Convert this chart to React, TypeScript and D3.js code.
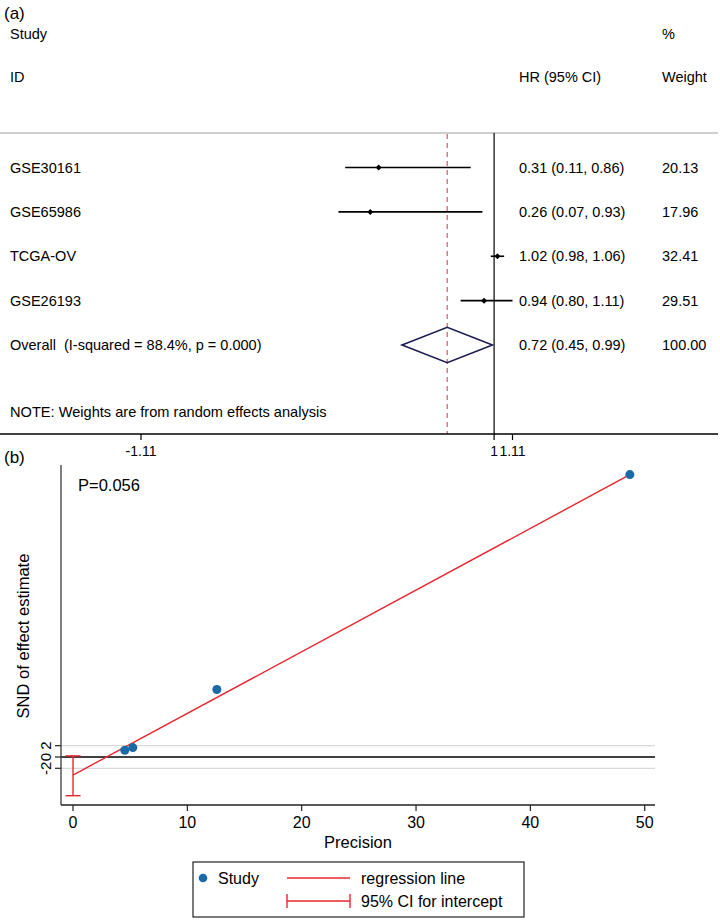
import React from "react";
import * as d3 from "d3";

const studies = ["GSE30161", "GSE65986", "TCGA-OV", "GSE26193"];
const hr = [0.31, 0.26, 1.02, 0.94];
const ciLow = [0.11, 0.07, 0.98, 0.8];
const ciHigh = [0.86, 0.93, 1.06, 1.11];
const hrText = ["0.31 (0.11, 0.86)", "0.26 (0.07, 0.93)", "1.02 (0.98, 1.06)", "0.94 (0.80, 1.11)"];
const weights = ["20.13", "17.96", "32.41", "29.51"];
const overall = { hr: 0.72, lo: 0.45, hi: 0.99, text: "0.72 (0.45, 0.99)", weight: "100.00" };
const forestTicks = [-1.11, 1, 1.11];
const forestTickLabels = ["-1.11", "1", "1.11"];

const precision = [4.53, 5.23, 12.58, 48.7];
const snd = [1.2, 1.66, 11.96, 50.0];
const regIntercept = -3.2;
const regSlope = 1.092;
const interceptCI = [-6.85, 0.2];
const precTicks = [0, 10, 20, 30, 40, 50];
const sndTicks = [-2, 0, 2];

const FONT = "Liberation Sans, Arial, sans-serif";
const RED = "#e8262e";
const BLUE = "#1a6aa8";

export default function App() {
  // forest plot scales
  const fx = d3.scaleLinear().domain([-1.11, 1.11]).range([141, 512.5]);
  const rowY = d3.scalePoint<number>().domain([0, 1, 2, 3, 4]).range([167.5, 345]);

  // egger plot scales
  const ex = d3.scaleLinear().domain([-1.05, 50.9]).range([61, 655]);
  const ey = d3.scaleLinear().domain([-8.5, 51.7]).range([805, 465]);
  const xMaxPrec = d3.max(precision) as number;
  const regLine = d3.line<number>().x((p) => ex(p)).y((p) => ey(regIntercept + regSlope * p));

  const diamond = d3.line<[number, number]>()([
    [fx(overall.lo), rowY(4)!],
    [fx(overall.hr), rowY(4)! - 17.7],
    [fx(overall.hi), rowY(4)!],
    [fx(overall.hr), rowY(4)! + 17.7],
  ]) + "Z";

  return (
    <svg width={720} height={922} style={{ position: "absolute", left: 0, top: 0, background: "#fff" }} fontFamily={FONT}>
      <rect width={720} height={922} fill="#fff" />
      {/* (a) forest plot */}
      <text x={4} y={19} fontSize={17}>(a)</text>
      <text x={10} y={39} fontSize={14.5}>Study</text>
      <text x={10} y={82} fontSize={14.5}>ID</text>
      <text x={519} y={82} fontSize={14.5}>HR (95% CI)</text>
      <text x={662} y={39} fontSize={14.5}>%</text>
      <text x={662} y={82} fontSize={14.5}>Weight</text>
      <line x1={0} x2={718} y1={133} y2={133} stroke="#cfcfcf" strokeWidth={2} />

      <line x1={fx(1)} x2={fx(1)} y1={133} y2={434} stroke="#000" strokeWidth={1.2} />
      <line x1={fx(overall.hr)} x2={fx(overall.hr)} y1={134} y2={434} stroke="#cf6a74" strokeWidth={1.3} strokeDasharray="5,4" />

      {studies.map((s, i) => (
        <g key={s}>
          <text x={10} y={rowY(i)! + 5} fontSize={14.5}>{s}</text>
          <line x1={fx(ciLow[i])} x2={fx(ciHigh[i])} y1={rowY(i)} y2={rowY(i)} stroke="#000" strokeWidth={1.6} />
          <path d={`M${fx(hr[i]) - 3},${rowY(i)} L${fx(hr[i])},${rowY(i)! - 3} L${fx(hr[i]) + 3},${rowY(i)} L${fx(hr[i])},${rowY(i)! + 3}Z`} fill="#000" />
          <text x={519} y={rowY(i)! + 5} fontSize={14.5}>{hrText[i]}</text>
          <text x={662} y={rowY(i)! + 5} fontSize={14.5}>{weights[i]}</text>
        </g>
      ))}
      <text x={10} y={rowY(4)! + 5} fontSize={14.5}>{"Overall\u00a0 (I-squared = 88.4%, p = 0.000)"}</text>
      <path d={diamond} fill="none" stroke="#1c1c55" strokeWidth={1.6} />
      <text x={519} y={rowY(4)! + 5} fontSize={14.5}>{overall.text}</text>
      <text x={662} y={rowY(4)! + 5} fontSize={14.5}>{overall.weight}</text>
      <text x={10} y={417} fontSize={14.6}>NOTE: Weights are from random effects analysis</text>

      <line x1={0} x2={718} y1={434} y2={434} stroke="#000" strokeWidth={1.5} />
      {forestTicks.map((t, i) => (
        <g key={t}>
          <line x1={fx(t)} x2={fx(t)} y1={434} y2={440} stroke="#000" strokeWidth={1.2} />
          <text x={fx(t)} y={456} fontSize={14} textAnchor="middle">{forestTickLabels[i]}</text>
        </g>
      ))}

      {/* (b) egger plot */}
      <text x={4} y={463} fontSize={17}>(b)</text>
      <text x={78} y={491} fontSize={16.5}>P=0.056</text>

      {sndTicks.map((t) => (
        <line key={"g" + t} x1={61} x2={655} y1={ey(t)} y2={ey(t)} stroke={t === 0 ? "#000" : "#d8d8d8"} strokeWidth={t === 0 ? 1.6 : 1.2} />
      ))}
      <line x1={61} x2={61} y1={465} y2={805} stroke="#555" strokeWidth={1.5} />
      <line x1={61} x2={655} y1={805} y2={805} stroke="#222" strokeWidth={1.5} />
      {sndTicks.map((t) => (
        <g key={"t" + t}>
          <line x1={55} x2={61} y1={ey(t)} y2={ey(t)} stroke="#222" strokeWidth={1.2} />
          <text transform={`translate(51,${ey(t)}) rotate(-90)`} fontSize={15} textAnchor="middle">{t}</text>
        </g>
      ))}
      <text transform={`translate(29,636) rotate(-90)`} fontSize={16.5} textAnchor="middle">SND of effect estimate</text>
      {precTicks.map((t) => (
        <g key={"x" + t}>
          <line x1={ex(t)} x2={ex(t)} y1={805} y2={811} stroke="#222" strokeWidth={1.2} />
          <text x={ex(t)} y={828} fontSize={16} textAnchor="middle">{t}</text>
        </g>
      ))}
      <text x={358} y={848} fontSize={16.5} textAnchor="middle">Precision</text>

      {/* CI for intercept */}
      <line x1={ex(0)} x2={ex(0)} y1={ey(interceptCI[0])} y2={ey(interceptCI[1])} stroke={RED} strokeWidth={1.4} />
      <line x1={ex(0) - 7.5} x2={ex(0) + 7.5} y1={ey(interceptCI[0])} y2={ey(interceptCI[0])} stroke={RED} strokeWidth={1.4} />
      <line x1={ex(0) - 7.5} x2={ex(0) + 7.5} y1={ey(interceptCI[1])} y2={ey(interceptCI[1])} stroke={RED} strokeWidth={1.4} />
      <path d={regLine([0, xMaxPrec]) || ""} stroke={RED} strokeWidth={1.4} fill="none" />
      {precision.map((p, i) => (
        <circle key={"p" + i} cx={ex(p)} cy={ey(snd[i])} r={4.5} fill={BLUE} />
      ))}

      {/* legend */}
      <rect x={193} y={862} width={331} height={55} fill="#fff" stroke="#222" strokeWidth={1.2} />
      <circle cx={203} cy={878} r={4.3} fill={BLUE} />
      <text x={218} y={884} fontSize={16}>Study</text>
      <line x1={287} x2={350} y1={878} y2={878} stroke={RED} strokeWidth={1.4} />
      <text x={361} y={884} fontSize={16}>regression line</text>
      <line x1={287} x2={350} y1={901} y2={901} stroke={RED} strokeWidth={1.4} />
      <line x1={287} x2={287} y1={894} y2={908} stroke={RED} strokeWidth={1.4} />
      <line x1={350} x2={350} y1={894} y2={908} stroke={RED} strokeWidth={1.4} />
      <text x={361} y={907} fontSize={16}>95% CI for intercept</text>
    </svg>
  );
}
